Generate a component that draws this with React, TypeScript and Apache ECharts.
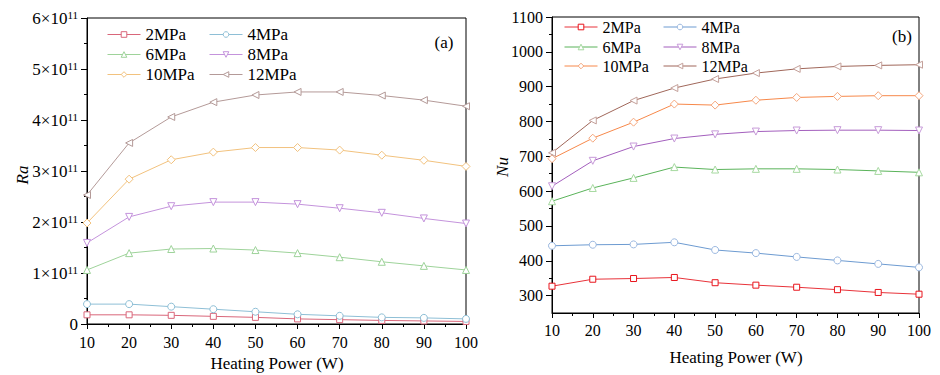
import React, { useEffect, useRef } from 'react';
import * as echarts from 'echarts';

const power = [10, 20, 30, 40, 50, 60, 70, 80, 90, 100];
const pressures = ['2MPa', '4MPa', '6MPa', '8MPa', '10MPa', '12MPa'];

// Ra values in units of 1e11
const ra2 = [0.18, 0.18, 0.17, 0.15, 0.13, 0.10, 0.085, 0.07, 0.06, 0.05];
const ra4 = [0.39, 0.39, 0.34, 0.29, 0.24, 0.19, 0.16, 0.13, 0.12, 0.10];
const ra6 = [1.06, 1.39, 1.47, 1.48, 1.45, 1.39, 1.31, 1.22, 1.14, 1.06];
const ra8 = [1.59, 2.10, 2.31, 2.39, 2.39, 2.35, 2.27, 2.18, 2.07, 1.97];
const ra10 = [1.98, 2.84, 3.22, 3.37, 3.46, 3.46, 3.41, 3.31, 3.21, 3.09];
const ra12 = [2.53, 3.55, 4.06, 4.35, 4.49, 4.55, 4.55, 4.48, 4.39, 4.27];

// Nu values
const nu2 = [327, 347, 349, 352, 337, 330, 324, 317, 309, 304];
const nu4 = [443, 446, 447, 453, 431, 422, 411, 401, 391, 381];
const nu6 = [571, 609, 638, 669, 662, 664, 664, 662, 658, 654];
const nu8 = [614, 687, 728, 751, 763, 771, 774, 775, 775, 774];
const nu10 = [693, 752, 798, 850, 847, 861, 869, 872, 874, 874];
const nu12 = [710, 803, 860, 896, 922, 939, 951, 958, 961, 963];

const raTicks = [0, 1, 2, 3, 4, 5, 6];
const nuTicks = [300, 400, 500, 600, 700, 800, 900, 1000, 1100];
const nuMinorTicks = [350, 450, 550, 650, 750, 850, 950, 1050];

const raData = [ra2, ra4, ra6, ra8, ra10, ra12];
const nuData = [nu2, nu4, nu6, nu8, nu10, nu12];

const symbols = ['rect', 'circle', 'triangle', 'triangle', 'diamond', 'triangle'];
const rotations = [0, 0, 0, 180, 0, 90];
const symbolSizes = [6, 7, 7, 7, 8, 7];

const leftLine = ['#d9667a', '#8ebfd6', '#9ed39a', '#c493dc', '#f2c27e', '#b49a98'];
const leftMark = ['#d9667a', '#8ebfd6', '#9ed39a', '#c493dc', '#f2c27e', '#b49a98'];
const rightLine = ['#e8333a', '#6d9bd1', '#5ab35a', '#a35fbd', '#f7884a', '#a0675a'];
const rightMark = ['#e8141c', '#9bb8e0', '#a6d9a0', '#c79ad9', '#f5a77d', '#c4a09a'];

const FONT = '"Liberation Serif", "Times New Roman", serif';

export default function App() {
  const ref = useRef<HTMLDivElement>(null);
  useEffect(() => {
    if (!ref.current) return;
    const chart = echarts.init(ref.current, undefined, { renderer: 'svg' });

    const series: any[] = [];
    pressures.forEach((p, i) => {
      series.push({
        type: 'line',
        name: p,
        xAxisIndex: 0,
        yAxisIndex: 0,
        data: power.map((x, j) => [x, raData[i][j]]),
        symbol: symbols[i],
        symbolRotate: rotations[i],
        symbolSize: symbolSizes[i],
        showSymbol: true,
        lineStyle: { color: leftLine[i], width: 1 },
        itemStyle: { color: '#fff', borderColor: leftMark[i], borderWidth: 1 },
        emphasis: { disabled: true },
      });
    });
    pressures.forEach((p, i) => {
      series.push({
        type: 'line',
        name: 'b:' + p,
        xAxisIndex: 1,
        yAxisIndex: 1,
        data: power.map((x, j) => [x, nuData[i][j]]),
        symbol: symbols[i],
        symbolRotate: rotations[i],
        symbolSize: symbolSizes[i],
        showSymbol: true,
        lineStyle: { color: rightLine[i], width: 1 },
        itemStyle: { color: '#fff', borderColor: rightMark[i], borderWidth: 1 },
        emphasis: { disabled: true },
      });
    });

    const leftCols = [107, 209];
    const leftRows = [35, 55, 75];
    const rightCols = [564, 663];
    const rightRows = [28, 48, 67];

    const legends: any[] = [];
    pressures.forEach((p, i) => {
      legends.push({
        data: [p],
        left: leftCols[i % 2],
        top: leftRows[Math.floor(i / 2)] - 9,
        padding: 0,
        itemWidth: 33,
        itemHeight: 7,
        itemStyle: { color: '#fff', borderColor: leftMark[i], borderWidth: 1 },
        lineStyle: { color: leftLine[i], width: 1 },
        textStyle: { fontFamily: FONT, fontSize: 17, color: '#000' },
        selectedMode: false,
      });
      legends.push({
        data: ['b:' + p],
        left: rightCols[i % 2],
        top: rightRows[Math.floor(i / 2)] - 9,
        padding: 0,
        itemWidth: 33,
        itemHeight: 7,
        itemStyle: { color: '#fff', borderColor: rightMark[i], borderWidth: 1 },
        lineStyle: { color: rightLine[i], width: 1 },
        formatter: (n: string) => n.replace('b:', ''),
        textStyle: { fontFamily: FONT, fontSize: 16, color: '#000' },
        selectedMode: false,
      });
    });

    const axisLine = { show: true, lineStyle: { color: '#000', width: 1 } };

    chart.setOption({
      animation: false,
      textStyle: { fontFamily: FONT },
      grid: [
        { left: 87, top: 18, width: 379, height: 306, show: true, borderColor: '#000', borderWidth: 1, backgroundColor: 'transparent' },
        { left: 552, top: 17, width: 367, height: 296, show: true, borderColor: '#000', borderWidth: 1, backgroundColor: 'transparent' },
      ],
      xAxis: [
        {
          type: 'value', gridIndex: 0, min: 10, max: 100, interval: 10,
          axisLine, splitLine: { show: false },
          axisTick: { show: true, length: 5, lineStyle: { color: '#000' } },
          minorTick: { show: true, splitNumber: 2, length: 3, lineStyle: { color: '#000' } },
          axisLabel: { margin: 10, fontFamily: FONT, fontSize: 16, color: '#000' },
        },
        {
          type: 'value', gridIndex: 1, min: 10, max: 100, interval: 10,
          axisLine, splitLine: { show: false },
          axisTick: { show: true, length: 5, lineStyle: { color: '#000' } },
          minorTick: { show: true, splitNumber: 2, length: 3, lineStyle: { color: '#000' } },
          axisLabel: { margin: 9, fontFamily: FONT, fontSize: 16, color: '#000' },
        },
      ],
      yAxis: [
        {
          type: 'value', gridIndex: 0, min: raTicks[0], max: raTicks[raTicks.length - 1], interval: 1,
          axisLine, splitLine: { show: false },
          axisTick: { show: true, length: 6, lineStyle: { color: '#000' } },
          minorTick: { show: true, splitNumber: 2, length: 3, lineStyle: { color: '#000' } },
          axisLabel: {
            margin: 9, color: '#000', fontFamily: FONT,
            formatter: (v: number) => (v === 0 ? '{a|0}' : `{a|${v}×10}{s|11}`),
            rich: {
              a: { fontFamily: FONT, fontSize: 17, color: '#000', lineHeight: 18, verticalAlign: 'bottom' },
              s: { fontFamily: FONT, fontSize: 11, color: '#000', lineHeight: 11, verticalAlign: 'top' },
            },
          },
        },
        {
          type: 'value', gridIndex: 1, min: 250, max: 1100, interval: 50, position: 'left',
          axisLine, splitLine: { show: false },
          axisTick: { show: true, length: 6, customValues: nuTicks, lineStyle: { color: '#000' } },
          axisLabel: {
            margin: 9, fontFamily: FONT, fontSize: 16, color: '#000',
            customValues: nuTicks,
            formatter: (v: number) => (v % 100 === 0 ? String(v) : ''),
          },
        },
        {
          type: 'value', gridIndex: 1, min: 250, max: 1100, interval: 50, position: 'left', offset: 0,
          axisLine: { show: false }, splitLine: { show: false },
          axisTick: { show: true, length: 3, customValues: nuMinorTicks, lineStyle: { color: '#000' } },
          axisLabel: { show: false },
        },
      ],
      legend: legends,
      graphic: [
        { type: 'text', x: 444, y: 42, style: { text: '(a)', fontFamily: FONT, fontSize: 17, fill: '#000', align: 'center', verticalAlign: 'middle' } },
        { type: 'text', x: 902, y: 36, style: { text: '(b)', fontFamily: FONT, fontSize: 17, fill: '#000', align: 'center', verticalAlign: 'middle' } },
        { type: 'text', x: 22, y: 175, rotation: Math.PI / 2, style: { text: 'Ra', fontFamily: FONT, fontSize: 17, fontStyle: 'italic', fill: '#000', align: 'center', verticalAlign: 'middle' } },
        { type: 'text', x: 502, y: 167, rotation: Math.PI / 2, style: { text: 'Nu', fontFamily: FONT, fontSize: 17, fontStyle: 'italic', fill: '#000', align: 'center', verticalAlign: 'middle' } },
        { type: 'text', x: 277, y: 363, style: { text: 'Heating Power (W)', fontFamily: FONT, fontSize: 17, fill: '#000', align: 'center', verticalAlign: 'middle' } },
        { type: 'text', x: 736, y: 357, style: { text: 'Heating Power (W)', fontFamily: FONT, fontSize: 17, fill: '#000', align: 'center', verticalAlign: 'middle' } },
      ],
      series,
    });

    return () => chart.dispose();
  }, []);

  return <div ref={ref} style={{ width: 940, height: 375, position: 'absolute', left: 0, top: 0 }} />;
}
